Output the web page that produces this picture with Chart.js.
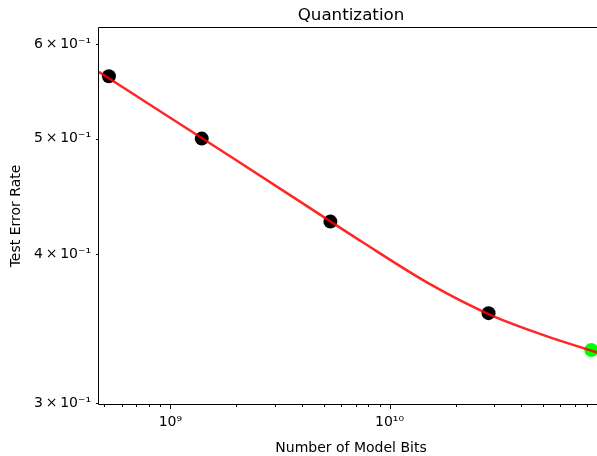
<!DOCTYPE html>
<html><head><meta charset="utf-8">
<script src="https://cdn.jsdelivr.net/npm/chart.js@4/dist/chart.umd.min.js"></script>
<style>
html,body{margin:0;padding:0;overflow:hidden;background:#fff;width:597px;height:456px}
#wrap{position:relative;width:610px;height:456px}
</style></head>
<body><div id="wrap"><canvas id="c" width="610" height="456"></canvas></div>
<script>
// measured configurations (model bits vs test error rate)
const pointBits = [5.24e8, 1.39e9, 5.37e9, 2.83e10];
const pointErr  = [0.564, 0.500, 0.426, 0.357];
// highlighted configuration
const bestBits = [8.33e10];
const bestErr  = [0.3325];
// fitted curve
const fitBits = [4.721e8, 9.42e8, 1.88e9, 3.75e9, 7.48e9, 1.509e10, 2.827e10, 4.82e10, 8.66e10, 9.42e10];
const fitErr  = [0.5687, 0.5241, 0.4830, 0.4449, 0.4097, 0.3781, 0.3564, 0.3432, 0.3314, 0.3299];
// ticks
const xMajorTicks = [1e9, 1e10];
const xTickLabels = ['10\u2079', '10\u00B9\u2070'];
const xMinorTicks = [5e8, 6e8, 7e8, 8e8, 9e8, 2e9, 3e9, 4e9, 5e9, 6e9, 7e9, 8e9, 9e9,
                     2e10, 3e10, 4e10, 5e10, 6e10, 7e10, 8e10, 9e10];
const yTicks = [0.3, 0.4, 0.5, 0.6];
const yTickLabels = ['3\u2009\u00D7\u200910\u207B\u00B9', '4\u2009\u00D7\u200910\u207B\u00B9',
                     '5\u2009\u00D7\u200910\u207B\u00B9', '6\u2009\u00D7\u200910\u207B\u00B9'];

const FONT = 'DejaVu Sans';

const frameAndTicks = {
  id: 'frameAndTicks',
  afterDraw(chart) {
    const {ctx, chartArea: a, scales: {x, y}} = chart;
    ctx.save();
    ctx.strokeStyle = '#000';
    ctx.lineWidth = 1;
    ctx.beginPath();
    ctx.rect(a.left - 0.5, a.top - 0.5, a.right - a.left + 1, a.bottom - a.top + 1);
    x.ticks.forEach(t => {
      const px = Math.round(x.getPixelForValue(t.value)) + 0.5;
      const len = t.major ? 5 : 3;
      ctx.moveTo(px, a.bottom);
      ctx.lineTo(px, a.bottom + len);
    });
    y.ticks.forEach(t => {
      const py = Math.round(y.getPixelForValue(t.value)) + 0.5;
      ctx.moveTo(a.left, py);
      ctx.lineTo(a.left - 3, py);
    });
    ctx.stroke();
    // title, centred over the axes
    ctx.fillStyle = '#000';
    ctx.font = '16.7px "' + FONT + '"';
    ctx.textAlign = 'center';
    ctx.textBaseline = 'alphabetic';
    ctx.fillText('Quantization', (a.left + a.right) / 2, 20);
    ctx.restore();
  }
};

new Chart(document.getElementById('c'), {
  type: 'scatter',
  data: {
    datasets: [
      {
        label: 'fit',
        data: fitBits.map((b, i) => ({x: b, y: fitErr[i]})),
        showLine: true,
        borderColor: 'rgba(255,0,0,0.85)',
        borderWidth: 2.5,
        pointRadius: 0,
        cubicInterpolationMode: 'monotone',
        order: 0
      },
      {
        label: 'measured',
        data: pointBits.map((b, i) => ({x: b, y: pointErr[i]})),
        backgroundColor: '#000',
        borderColor: '#000',
        pointRadius: 7,
        borderWidth: 0,
        order: 1
      },
      {
        label: 'best',
        data: bestBits.map((b, i) => ({x: b, y: bestErr[i]})),
        backgroundColor: '#00ff00',
        borderColor: '#00ff00',
        pointRadius: 7,
        borderWidth: 0,
        order: 2
      }
    ]
  },
  options: {
    responsive: false,
    animation: false,
    devicePixelRatio: 1,
    layout: {padding: {top: 28, right: 5, left: 0, bottom: 0}},
    plugins: {legend: {display: false}, tooltip: {enabled: false}, title: {display: false}},
    scales: {
      x: {
        type: 'logarithmic',
        min: 4.722e8,
        max: 9.42e10,
        grid: {display: false, drawTicks: false},
        border: {display: false},
        afterBuildTicks: s => {
          s.ticks = xMinorTicks.concat(xMajorTicks).sort((p, q) => p - q)
            .map(v => ({value: v, major: xMajorTicks.includes(v)}));
        },
        afterFit: s => { s.height = 52; },
        ticks: {
          autoSkip: false, maxRotation: 0, minRotation: 0, padding: 10,
          color: '#000', font: {family: FONT, size: 14},
          callback: v => { const i = xMajorTicks.indexOf(v); return i >= 0 ? xTickLabels[i] : ''; }
        },
        title: {display: true, text: 'Number of Model Bits', color: '#000',
                font: {family: FONT, size: 14, lineHeight: 1.1}, padding: {top: 0, bottom: 0}}
      },
      y: {
        type: 'logarithmic',
        min: 0.29958,
        max: 0.6190,
        grid: {display: false, drawTicks: false},
        border: {display: false},
        afterBuildTicks: s => { s.ticks = yTicks.map(v => ({value: v})); },
        afterFit: s => { s.width = 99; },
        ticks: {
          autoSkip: false, padding: 8,
          color: '#000', font: {family: FONT, size: 14},
          callback: v => { const i = yTicks.indexOf(v); return i >= 0 ? yTickLabels[i] : ''; }
        },
        title: {display: true, text: 'Test Error Rate', color: '#000',
                font: {family: FONT, size: 14}, padding: {top: 8, bottom: 0}}
      }
    }
  },
  plugins: [frameAndTicks]
});
</script>
</body></html>
